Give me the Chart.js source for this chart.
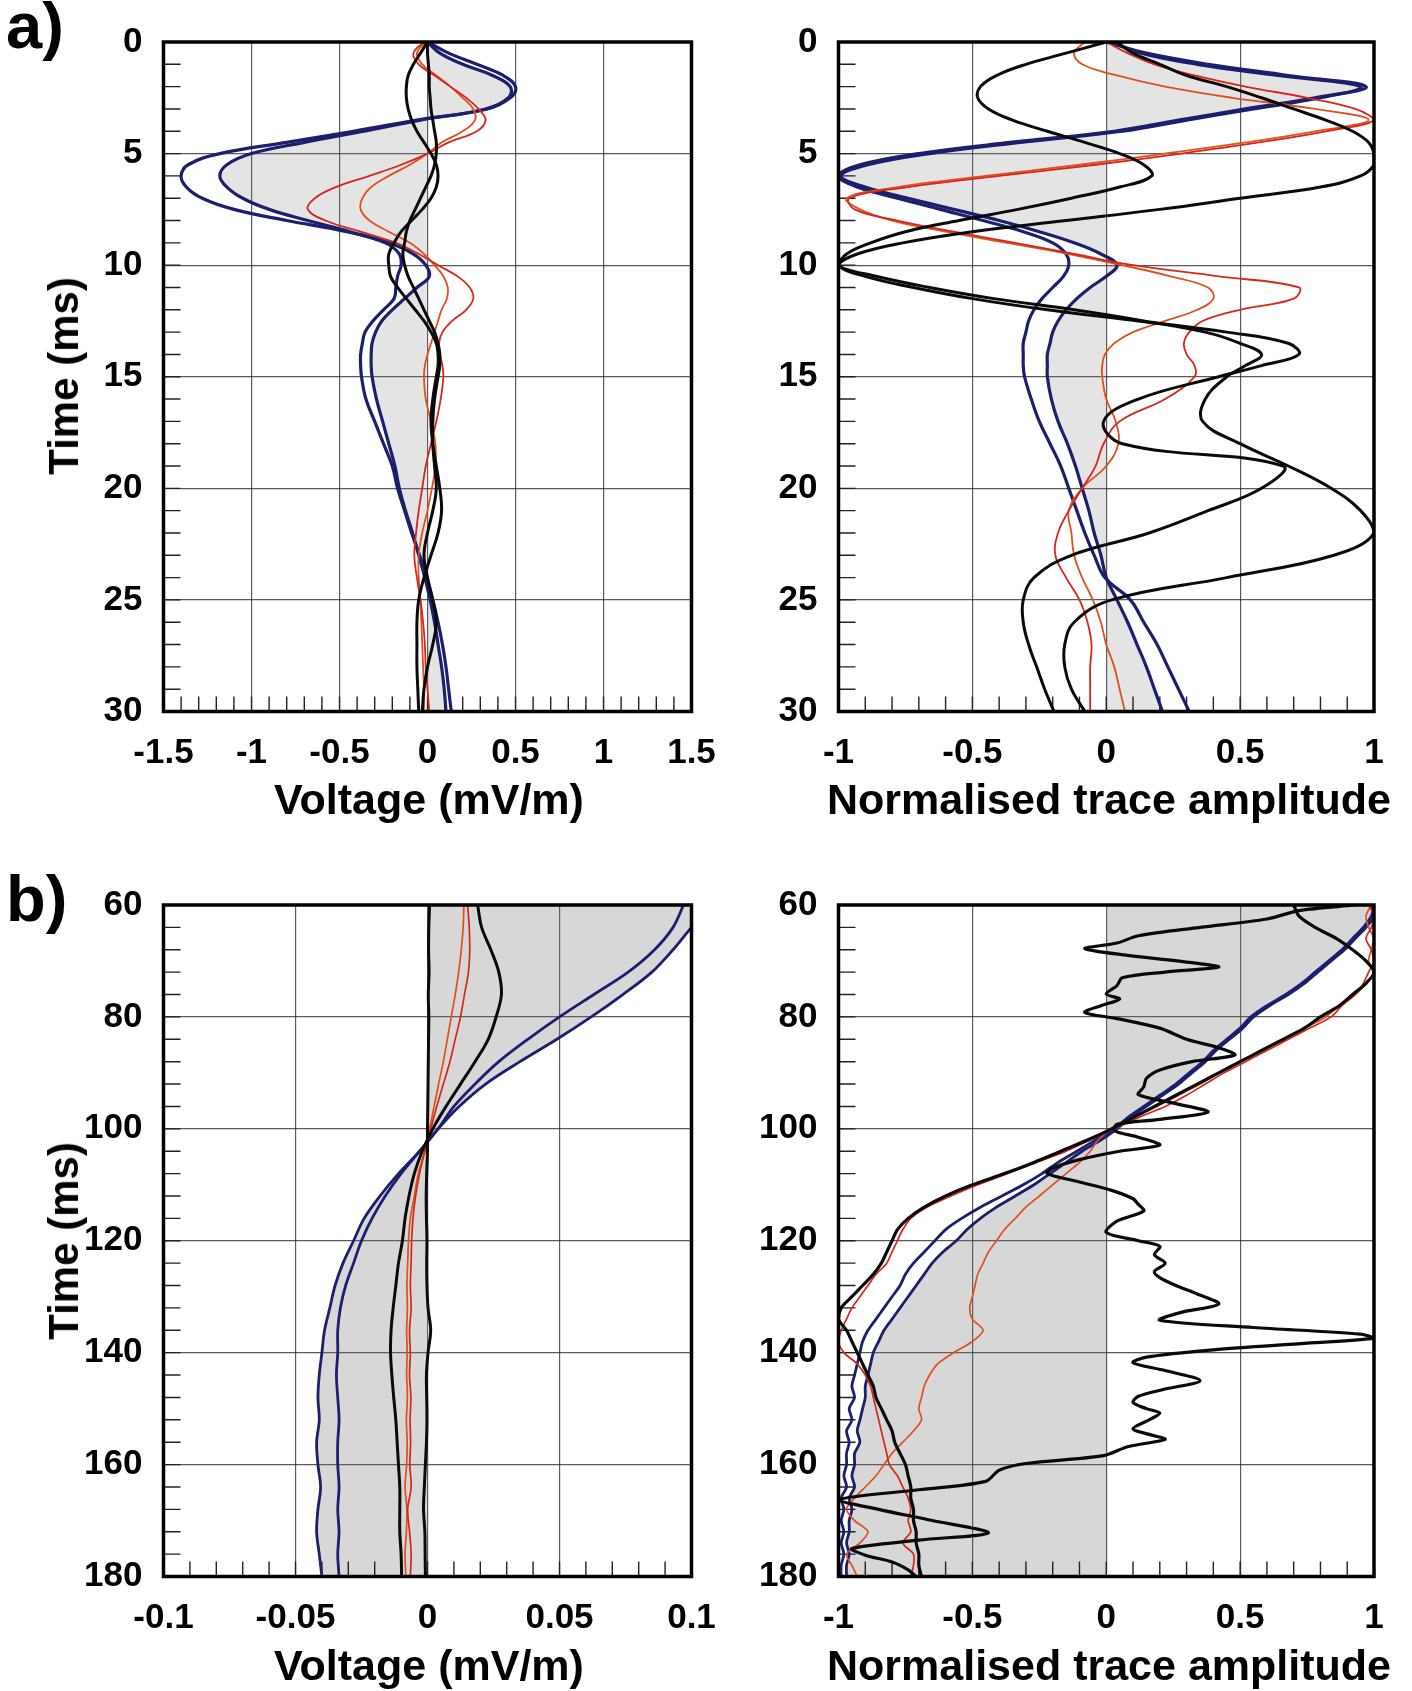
<!DOCTYPE html>
<html>
<head>
<meta charset="utf-8">
<title>Trace comparison</title>
<script src="https://cdn.jsdelivr.net/npm/chart.js@4.4.1/dist/chart.umd.min.js"></script>
<style>
  body { margin: 0; background: #fff; }
  #page { position: relative; width: 1412px; height: 1691px; overflow: hidden;
          font-family: "Liberation Sans", Arial, sans-serif; font-weight: bold; color: #000; }
  #page canvas { position: absolute; }
  .txt { position: absolute; white-space: nowrap; line-height: 1; transform: translate(-50%, -50%); }
  .panel { font-size: 65px; transform: none; }
  .xt { font-size: 43px; }
  .yt { font-size: 42px; transform: translate(-50%, -50%) rotate(-90deg); }
</style>
</head>
<body>
<div id="page">
  <canvas id="aVolt" width="760" height="790" style="left:0px;top:0px"></canvas>
  <canvas id="aNorm" width="712" height="790" style="left:700px;top:0px"></canvas>
  <canvas id="bVolt" width="760" height="800" style="left:0px;top:860px"></canvas>
  <canvas id="bNorm" width="712" height="800" style="left:700px;top:860px"></canvas>

  <div class="txt panel" style="left:6px;top:-7px">a)</div>
  <div class="txt panel" style="left:6px;top:866px">b)</div>
  <div class="txt yt" style="left:64px;top:376px">Time (ms)</div>
  <div class="txt yt" style="left:64px;top:1241px">Time (ms)</div>
  <div class="txt xt" style="left:429px;top:799px">Voltage (mV/m)</div>
  <div class="txt xt" style="left:1109px;top:799px">Normalised trace amplitude</div>
  <div class="txt xt" style="left:429px;top:1665px">Voltage (mV/m)</div>
  <div class="txt xt" style="left:1109px;top:1665px">Normalised trace amplitude</div>
</div>
<script>
// ---- sample times (ms) ----
const tA = [0,0.5,1,1.5,2,2.5,3,3.5,4,4.5,5,5.5,6,6.5,7,7.5,8,8.5,9,9.5,10,10.5,11,11.5,12,12.5,13,13.5,14,14.5,15,
            16,17,18,19,20,21,22,23,24,25,26,27,28,29,30];
const tB = [60,64,68,72,76,80,84,88,92,96,100,104,108,112,116,120,124,128,132,136,140,144,148,152,156,160,164,168,172,176,180];
const tB2 = [60,62,64,66,68,70,72,74,76,78,80,82,84,86,88,90,92,94,96,98,100,102,104,106,108,110,112,114,116,118,120,
             122,124,126,128,130,132,134,136,138,140,142,144,146,148,150,152,154,156,158,160,162,164,166,168,170,172,174,176,178,180];

// ---- axis ticks ----
const voltTicksA = [-1.5, -1, -0.5, 0, 0.5, 1, 1.5];
const voltTicksB = [-0.1, -0.05, 0, 0.05, 0.1];
const normTicks = [-1, -0.5, 0, 0.5, 1];
const timeTicksA = [0, 5, 10, 15, 20, 25, 30];
const timeTicksB = [60, 80, 100, 120, 140, 160, 180];

// ---- a) early window, voltage (mV/m) ----
const aVoltBlue1 = [0,0.12,0.28,0.43,0.50,0.47,0.34,-0.06,-0.42,-0.80,-1.18,-1.36,-1.40,-1.37,-1.28,-1.10,-0.80,-0.46,-0.24,-0.16,-0.15,-0.17,-0.18,-0.19,-0.25,-0.31,-0.355,-0.37,-0.38,-0.38,-0.375,
                    -0.35,-0.30,-0.25,-0.20,-0.17,-0.13,-0.09,-0.045,-0.005,0.03,0.06,0.085,0.105,0.12,0.135];
const aVoltBlue2 = [0,0.07,0.20,0.37,0.47,0.46,0.33,-0.04,-0.36,-0.70,-1.00,-1.14,-1.18,-1.14,-1.05,-0.90,-0.68,-0.44,-0.22,-0.08,-0.01,0.01,-0.06,-0.13,-0.20,-0.26,-0.295,-0.315,-0.32,-0.32,-0.315,
                    -0.29,-0.255,-0.22,-0.185,-0.16,-0.125,-0.085,-0.05,-0.015,0.015,0.04,0.06,0.08,0.095,0.105];
const aVoltRed1 = [-0.02,-0.08,-0.05,0.04,0.13,0.22,0.29,0.33,0.28,0.12,0.0,-0.15,-0.33,-0.52,-0.64,-0.68,-0.58,-0.38,-0.18,-0.05,0.06,0.17,0.24,0.26,0.22,0.14,0.085,0.065,0.07,0.085,0.09,
                   0.075,0.05,0.02,-0.01,-0.03,-0.05,-0.065,-0.075,-0.06,-0.04,-0.025,-0.015,-0.01,0.0,0.01];
const aVoltRed2 = [-0.01,-0.06,-0.03,0.05,0.13,0.20,0.26,0.27,0.20,0.08,0.0,-0.10,-0.22,-0.32,-0.37,-0.38,-0.33,-0.22,-0.10,-0.02,0.04,0.09,0.115,0.11,0.08,0.06,0.04,0.02,0.0,-0.015,-0.02,
                   -0.01,0.02,0.045,0.045,0.025,0.0,-0.03,-0.05,-0.05,-0.04,-0.035,-0.03,-0.025,-0.02,-0.02];
const aVoltBlack1 = [0,-0.04,-0.08,-0.11,-0.12,-0.12,-0.11,-0.09,-0.06,-0.02,0.02,0.05,0.06,0.05,0.02,-0.03,-0.09,-0.15,-0.19,-0.22,-0.22,-0.21,-0.17,-0.12,-0.07,-0.02,0.02,0.05,0.06,0.06,0.05,
                     0.03,0.02,0.03,0.05,0.07,0.08,0.06,0.02,-0.02,-0.05,-0.06,-0.06,-0.06,-0.055,-0.05];
const aVoltBlack2 = [0,0.0,0.005,0.01,0.01,0.015,0.02,0.03,0.04,0.05,0.05,0.04,0.02,-0.01,-0.04,-0.07,-0.10,-0.12,-0.13,-0.14,-0.13,-0.11,-0.08,-0.05,-0.02,0.01,0.04,0.06,0.07,0.07,0.06,
                     0.04,0.03,0.03,0.04,0.05,0.03,0.0,-0.02,0.0,0.03,0.05,0.03,0.0,-0.02,-0.03];

// ---- a) early window, normalised amplitude ----
const aNormBlue1 = [0,0.15,0.38,0.68,0.97,0.78,0.52,0.27,0.03,-0.36,-0.70,-0.92,-1.0,-0.93,-0.78,-0.62,-0.46,-0.31,-0.20,-0.15,-0.14,-0.16,-0.20,-0.24,-0.27,-0.29,-0.30,-0.31,-0.31,-0.31,-0.305,
                    -0.28,-0.25,-0.21,-0.17,-0.14,-0.11,-0.08,-0.045,-0.005,0.09,0.14,0.19,0.23,0.27,0.31];
const aNormBlue2 = [0.02,0.13,0.34,0.64,0.95,0.80,0.55,0.30,0.06,-0.32,-0.66,-0.89,-0.99,-0.90,-0.74,-0.57,-0.40,-0.25,-0.12,-0.02,0.04,0.0,-0.06,-0.11,-0.15,-0.18,-0.20,-0.21,-0.22,-0.22,-0.22,
                    -0.205,-0.18,-0.145,-0.115,-0.09,-0.065,-0.045,-0.02,0.0,0.04,0.08,0.115,0.15,0.18,0.21];
const aNormRed1 = [0.0,0.08,0.18,0.33,0.52,0.75,0.93,1.0,0.82,0.57,0.28,-0.04,-0.40,-0.74,-0.96,-0.94,-0.78,-0.57,-0.34,-0.12,0.10,0.42,0.72,0.70,0.50,0.36,0.31,0.29,0.30,0.33,0.33,
                   0.22,0.05,-0.01,-0.04,-0.09,-0.14,-0.18,-0.19,-0.15,-0.10,-0.07,-0.055,-0.06,-0.06,-0.06];
const aNormRed2 = [-0.08,-0.12,-0.09,0.04,0.22,0.47,0.78,0.98,0.78,0.52,0.22,-0.10,-0.45,-0.78,-0.97,-0.92,-0.80,-0.60,-0.37,-0.14,0.06,0.24,0.38,0.40,0.34,0.22,0.10,0.03,-0.005,-0.015,-0.015,
                   0.0,0.035,0.045,0.0,-0.09,-0.14,-0.13,-0.12,-0.09,-0.05,-0.02,0.0,0.03,0.05,0.07];
const aNormBlack1 = [0.0,-0.15,-0.30,-0.41,-0.47,-0.48,-0.44,-0.35,-0.22,-0.08,0.05,0.14,0.17,0.05,-0.13,-0.33,-0.55,-0.75,-0.88,-0.97,-1.0,-0.9,-0.72,-0.50,-0.22,0.12,0.45,0.68,0.72,0.58,0.42,
                     0.12,-0.01,0.06,0.66,0.58,0.38,0.16,-0.13,-0.27,-0.31,-0.31,-0.29,-0.26,-0.23,-0.195];
const aNormBlack2 = [0.04,0.10,0.20,0.30,0.45,0.58,0.70,0.82,0.92,0.98,1.0,1.0,0.95,0.80,0.50,0.20,-0.15,-0.50,-0.76,-0.93,-1.0,-0.86,-0.66,-0.42,-0.12,0.14,0.37,0.50,0.58,0.52,0.45,
                     0.37,0.36,0.50,0.68,0.84,0.95,1.0,0.85,0.45,0.02,-0.12,-0.155,-0.155,-0.13,-0.08];

// ---- b) late window, voltage (mV/m) ----
const bVoltBlue1 = [0.108,0.100,0.093,0.085,0.074,0.062,0.049,0.035,0.022,0.012,0.004,-0.003,-0.011,-0.018,-0.024,-0.028,-0.032,-0.035,-0.037,-0.039,-0.040,
                    -0.041,-0.0415,-0.041,-0.042,-0.0415,-0.0405,-0.0415,-0.042,-0.041,-0.040];
const bVoltBlue2 = [0.097,0.093,0.086,0.076,0.063,0.050,0.038,0.027,0.018,0.010,0.004,-0.003,-0.010,-0.016,-0.021,-0.025,-0.028,-0.031,-0.033,-0.034,-0.034,
                    -0.0345,-0.034,-0.0335,-0.034,-0.034,-0.0335,-0.034,-0.0335,-0.034,-0.0335];
const bVoltRed1 = [0.0152,0.0158,0.016,0.0155,0.014,0.0125,0.0105,0.0085,0.006,0.0035,0.0012,-0.001,-0.003,-0.0045,-0.0055,-0.006,-0.0062,-0.0065,-0.0062,-0.0068,-0.0065,
                   -0.0068,-0.0063,-0.0066,-0.0064,-0.0067,-0.0062,-0.0075,-0.0068,-0.0062,-0.0065];
const bVoltRed2 = [0.0138,0.0135,0.0128,0.0118,0.0105,0.009,0.0075,0.006,0.0042,0.0025,0.0008,-0.001,-0.0035,-0.005,-0.0065,-0.0072,-0.0075,-0.0078,-0.0076,-0.0079,-0.0077,
                   -0.0079,-0.0076,-0.008,-0.0077,-0.0079,-0.0085,-0.0078,-0.008,-0.0085,-0.0082];
const bVoltBlack1 = [0.0008,0.0005,0.0004,0.0006,0.0003,0.0005,0.0004,0.0003,0.0002,0.0001,0.0,0.0,-0.0003,-0.0005,-0.0004,-0.0002,-0.0003,-0.0002,0.0002,0.0012,0.0002,
                     -0.0004,-0.0003,-0.0002,-0.0004,-0.0008,-0.0012,-0.0015,-0.001,-0.0009,-0.0008];
const bVoltBlack2 = [0.019,0.0205,0.024,0.027,0.028,0.026,0.023,0.018,0.0125,0.007,0.002,-0.002,-0.005,-0.007,-0.0085,-0.0095,-0.011,-0.012,-0.013,-0.0138,-0.014,
                     -0.0135,-0.0128,-0.012,-0.0115,-0.011,-0.0105,-0.0105,-0.0105,-0.01,-0.0098];

// ---- b) late window, normalised amplitude ----
const bNormBlue1 = [1.0,0.99,0.96,0.92,0.88,0.83,0.78,0.73,0.67,0.60,0.54,0.50,0.45,0.40,0.36,0.31,0.26,0.20,0.14,0.08,0.03,
                    -0.04,-0.11,-0.18,-0.24,-0.31,-0.39,-0.47,-0.54,-0.60,-0.64,-0.68,-0.72,-0.75,-0.77,-0.80,-0.83,-0.86,-0.89,-0.91,-0.92,
                    -0.93,-0.94,-0.95,-0.94,-0.96,-0.95,-0.97,-0.96,-0.97,-0.97,-0.98,-0.97,-0.99,-0.98,-0.99,-0.98,-0.99,-0.98,-0.99,-0.99];
const bNormBlue2 = [0.99,1.0,0.97,0.93,0.89,0.84,0.79,0.74,0.68,0.61,0.55,0.51,0.46,0.41,0.37,0.32,0.27,0.21,0.15,0.09,0.04,
                    -0.02,-0.09,-0.15,-0.21,-0.27,-0.34,-0.41,-0.47,-0.52,-0.56,-0.61,-0.65,-0.68,-0.71,-0.74,-0.77,-0.80,-0.83,-0.85,-0.87,
                    -0.88,-0.89,-0.90,-0.90,-0.91,-0.92,-0.93,-0.92,-0.94,-0.94,-0.95,-0.94,-0.96,-0.95,-0.96,-0.96,-0.97,-0.96,-0.97,-0.97];
const bNormRed1 = [0.98,1.0,0.99,0.97,0.99,1.0,0.98,0.96,0.93,0.88,0.84,0.76,0.68,0.60,0.52,0.44,0.37,0.30,0.22,0.12,0.03,
                   -0.06,-0.15,-0.26,-0.37,-0.48,-0.58,-0.67,-0.73,-0.76,-0.78,-0.80,-0.82,-0.86,-0.89,-0.92,-0.95,-0.97,-0.99,-1.0,-0.98,
                   -0.93,-0.90,-0.88,-0.87,-0.86,-0.85,-0.84,-0.83,-0.82,-0.81,-0.78,-0.76,-0.74,-0.73,-0.74,-0.73,-0.76,-0.72,-0.72,-0.73];
const bNormRed2 = [0.99,0.97,0.98,1.0,0.99,0.98,1.0,0.97,0.93,0.87,0.82,0.74,0.67,0.58,0.50,0.42,0.35,0.27,0.19,0.10,0.02,
                   -0.03,-0.06,-0.10,-0.15,-0.20,-0.25,-0.30,-0.34,-0.38,-0.41,-0.44,-0.46,-0.48,-0.49,-0.50,-0.51,-0.50,-0.46,-0.50,-0.57,
                   -0.63,-0.66,-0.68,-0.69,-0.70,-0.69,-0.72,-0.76,-0.80,-0.83,-0.86,-0.90,-0.94,-0.97,-0.94,-0.89,-0.92,-0.97,-0.95,-0.93];
const bNormBlack2 = [0.70,0.72,0.78,0.86,0.92,0.97,1.0,0.97,0.92,0.87,0.80,0.74,0.66,0.58,0.50,0.42,0.34,0.26,0.18,0.10,0.02,
                     -0.07,-0.17,-0.27,-0.38,-0.50,-0.60,-0.68,-0.74,-0.78,-0.80,-0.82,-0.84,-0.87,-0.91,-0.95,-0.99,-1.0,-0.97,-0.95,-0.93,
                     -0.91,-0.89,-0.87,-0.86,-0.84,-0.82,-0.80,-0.79,-0.77,-0.75,-0.74,-0.73,-0.73,-0.72,-0.72,-0.71,-0.71,-0.70,-0.70,-0.69];
// the ringing trace is sampled at its own turning points
const tBRing = [60,61,62.5,64,65.5,66.8,67.8,69,70.3,71.1,72,73,74.4,75.9,76.8,78,79.2,80.3,82,84,85.5,86.8,88,89.5,91,92.5,93.9,95.5,97,98.3,99.2,100.3,
                101.5,102.9,104,105.5,107,108,109.5,111,112.5,113.5,114.7,116.5,118.5,120,121,122.5,124,125.5,126.6,128,129.5,131.3,132.8,134.2,135.5,136.7,137.4,
                138.3,139.5,140.8,141.8,143.2,145,146.5,147.8,148.9,150,150.8,152,153.6,154.6,155.5,156.8,158.4,159.8,161,163,164.5,166.3,168,170,
                172.2,173.5,175,176.2,177.4,178.8,180];
const bNormBlack1 = [0.93,0.72,0.60,0.35,0.12,0.04,-0.08,0.08,0.32,0.42,0.22,0.06,0.04,0.0,0.05,-0.02,-0.08,0.04,0.2,0.3,0.42,0.48,0.32,0.2,0.15,0.14,0.12,0.26,0.38,0.2,0.04,0.03,
                     0.12,0.2,0.05,-0.1,-0.2,-0.22,-0.1,0.02,0.1,0.12,0.14,0.04,0.0,0.12,0.2,0.18,0.22,0.18,0.2,0.26,0.34,0.42,0.28,0.2,0.55,0.95,1.0,
                     0.75,0.4,0.15,0.1,0.22,0.35,0.22,0.12,0.1,0.15,0.2,0.16,0.1,0.16,0.22,0.08,-0.01,-0.3,-0.4,-0.45,-0.7,-1.0,-0.85,-0.65,
                     -0.44,-0.7,-0.95,-0.9,-0.8,-0.74,-0.71];

// ---- drawing ----
Chart.defaults.font.family = '"Liberation Sans", Arial, sans-serif';
Chart.defaults.color = '#000';

const BLUE = '#1c1f6e', RED = '#d6261c', ORANGE = '#e0501e', BLACK = '#0a0a0a';

// inward minor ticks on the left/bottom edges and the heavy box round the plot
const panelFrame = {
  id: 'panelFrame',
  beforeDatasetsDraw(chart, args, o) {
    const {ctx, chartArea: a, scales: {x, y}} = chart;
    ctx.save();
    ctx.strokeStyle = '#222';
    ctx.lineWidth = 1.4;
    ctx.beginPath();
    const ny = Math.round((y.max - y.min) / o.yMinor);
    for (let i = 1; i < ny; i++) {
      const py = y.getPixelForValue(y.min + i * o.yMinor);
      ctx.moveTo(a.left, py);
      ctx.lineTo(a.left + 17, py);
    }
    const nx = Math.round((x.max - x.min) / o.xMinor);
    for (let i = 1; i < nx; i++) {
      const px = x.getPixelForValue(x.min + i * o.xMinor);
      ctx.moveTo(px, a.bottom);
      ctx.lineTo(px, a.bottom - 15);
    }
    ctx.stroke();
    ctx.restore();
  },
  afterDraw(chart) {
    const {ctx, chartArea: a} = chart;
    ctx.save();
    ctx.strokeStyle = '#000';
    ctx.lineWidth = 3.5;
    ctx.strokeRect(a.left, a.top, a.right - a.left, a.bottom - a.top);
    ctx.restore();
  }
};

function trace(t, v, color, width, fillColor, tension) {
  return {
    data: t.map((ty, i) => ({x: v[i], y: ty})),
    borderColor: color,
    borderWidth: width,
    backgroundColor: fillColor || 'transparent',
    fill: fillColor ? 'origin' : false,
    pointRadius: 0,
    tension: tension
  };
}

function axis(min, max, ticks, extra) {
  return Object.assign({
    type: 'linear', min: min, max: max,
    afterBuildTicks: s => { s.ticks = ticks.map(v => ({value: v})); },
    grid: {color: 'rgba(35,35,35,0.75)', lineWidth: 1.2, drawTicks: false},
    border: {display: false},
    ticks: {font: {size: 35, weight: 'bold'}, color: '#000', autoSkip: false, maxRotation: 0,
            padding: 21, callback: v => String(v)}
  }, extra);
}

// box: canvas placement on the page, area: wanted plot rectangle on the page
function panel(id, box, area, x, y, minor, datasets) {
  x.afterFit = s => { s.height = box.top + box.height - area.bottom; };
  y.afterFit = s => { s.width = area.left - box.left; };
  return new Chart(document.getElementById(id), {
    type: 'line',
    data: {datasets: datasets},
    options: {
      indexAxis: 'y',
      responsive: false,
      animation: false,
      devicePixelRatio: 1,
      layout: {padding: {left: 0, bottom: 0, top: area.top - box.top, right: box.left + box.width - area.right}},
      plugins: {
        legend: {display: false},
        tooltip: {enabled: false},
        filler: {drawTime: 'beforeDatasetsDraw'},
        panelFrame: minor
      },
      scales: {x: x, y: y}
    },
    plugins: [panelFrame]
  });
}

const grayA = 'rgba(120,120,120,0.2)';
const grayB = 'rgba(110,110,110,0.28)';

panel('aVolt', {left: 0, top: 0, width: 760, height: 790}, {left: 163.5, top: 40, right: 691.5, bottom: 711.5},
  axis(-1.5, 1.5, voltTicksA, {position: 'bottom'}),
  axis(0, 30, timeTicksA, {reverse: true}),
  {xMinor: 0.1, yMinor: 1},
  [
    trace(tA, aVoltBlack1, BLACK, 3, null, 0.4),
    trace(tA, aVoltBlack2, BLACK, 3, null, 0.4),
    trace(tA, aVoltRed1, RED, 1.8, null, 0.4),
    trace(tA, aVoltRed2, ORANGE, 1.8, null, 0.4),
    trace(tA, aVoltBlue1, BLUE, 3.2, null, 0.4),
    trace(tA, aVoltBlue2, BLUE, 3.2, grayA, 0.4)
  ]);

panel('aNorm', {left: 700, top: 0, width: 712, height: 790}, {left: 838.5, top: 40, right: 1374, bottom: 711.5},
  axis(-1, 1, normTicks, {position: 'bottom'}),
  axis(0, 30, timeTicksA, {reverse: true}),
  {xMinor: 0.1, yMinor: 1},
  [
    trace(tA, aNormBlack1, BLACK, 3, null, 0.4),
    trace(tA, aNormBlack2, BLACK, 3, null, 0.4),
    trace(tA, aNormRed1, RED, 1.8, null, 0.4),
    trace(tA, aNormRed2, ORANGE, 1.8, null, 0.4),
    trace(tA, aNormBlue1, BLUE, 3.2, null, 0.4),
    trace(tA, aNormBlue2, BLUE, 3.2, grayA, 0.4)
  ]);

panel('bVolt', {left: 0, top: 860, width: 760, height: 800}, {left: 163.5, top: 905, right: 691.5, bottom: 1576.5},
  axis(-0.1, 0.1, voltTicksB, {position: 'bottom'}),
  axis(60, 180, timeTicksB, {reverse: true}),
  {xMinor: 0.01, yMinor: 4},
  [
    trace(tB, bVoltBlack1, BLACK, 3, null, 0.35),
    trace(tB, bVoltBlack2, BLACK, 3, null, 0.35),
    trace(tB, bVoltRed1, RED, 1.7, null, 0.35),
    trace(tB, bVoltRed2, ORANGE, 1.7, null, 0.35),
    trace(tB, bVoltBlue1, BLUE, 2.8, grayB, 0.35),
    trace(tB, bVoltBlue2, BLUE, 2.8, null, 0.35)
  ]);

panel('bNorm', {left: 700, top: 860, width: 712, height: 800}, {left: 838.5, top: 905, right: 1374, bottom: 1576.5},
  axis(-1, 1, normTicks, {position: 'bottom'}),
  axis(60, 180, timeTicksB, {reverse: true}),
  {xMinor: 0.1, yMinor: 4},
  [
    trace(tBRing, bNormBlack1, BLACK, 3.2, null, 0.3),
    trace(tB2, bNormBlack2, BLACK, 3.2, null, 0.3),
    trace(tB2, bNormRed1, RED, 1.7, null, 0.3),
    trace(tB2, bNormRed2, ORANGE, 1.7, null, 0.3),
    trace(tB2, bNormBlue1, BLUE, 2.8, null, 0.3),
    trace(tB2, bNormBlue2, BLUE, 2.8, grayB, 0.3)
  ]);
</script>
</body>
</html>
